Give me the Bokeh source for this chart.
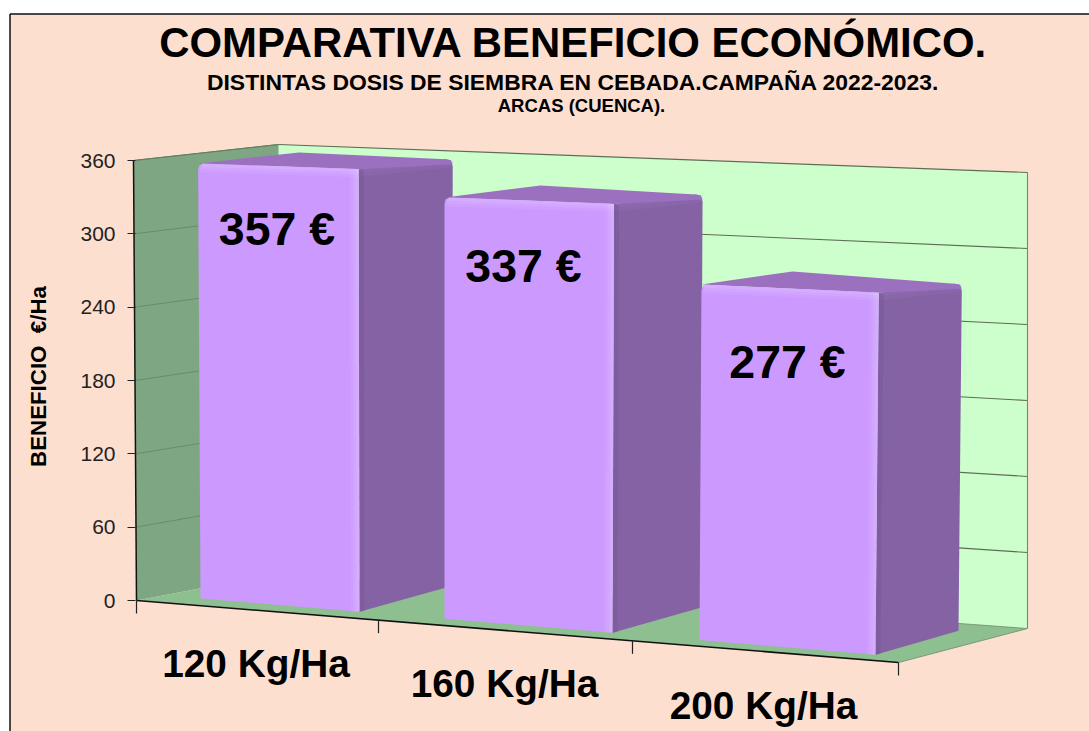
from bokeh.plotting import figure
from bokeh.embed import file_html
from bokeh.resources import INLINE
from bokeh.models import Range1d, FixedTicker
from bokeh.core.properties import value

CATEGORIES = ["120 Kg/Ha", "160 Kg/Ha", "200 Kg/Ha"]
VALUES = [357, 337, 277]
TICKS = [0, 60, 120, 180, 240, 300, 360]
TITLE = "COMPARATIVA BENEFICIO ECONÓMICO."
SUB1 = "DISTINTAS DOSIS DE SIEMBRA EN CEBADA.CAMPAÑA 2022-2023."
SUB2 = "ARCAS (CUENCA)."
YLABEL = "BENEFICIO \u00a0€/Ha"

FONT = value("Liberation Sans")
BG = "#FDDFD0"
W_BACK = "#CCFFCC"
W_LEFT = "#7FA683"
FLOOR = "#8DBF90"
FRONT = "#CC99FF"
SIDE = "#8462A4"
TOP = "#9A70BF"

AXIS_MAX = 360
PW, PH = 1089, 731
Y0_PX, YMAX_PX = 600.0, 160.0
UNIT = (Y0_PX - YMAX_PX) / AXIS_MAX


def yv(py):
    """screen row -> axis units"""
    return (Y0_PX - py) / UNIT


p = figure(width=PW, height=PH, output_backend="svg", toolbar_location=None,
           x_range=Range1d(0, PW),
           y_range=Range1d(yv(PH), yv(0)),
           min_border=0, outline_line_color=None,
           background_fill_color="#FFFFFF", border_fill_color="#FFFFFF")
p.grid.visible = False
p.xaxis.visible = False


def poly(pts, color, alpha=1.0):
    p.patch([a for a, _ in pts], [yv(b) for _, b in pts], fill_color=color,
            fill_alpha=alpha, line_color=None)


def seg(pts, color, width=1.0):
    p.line([a for a, _ in pts], [yv(b) for _, b in pts], line_color=color, line_width=width)


def txt(x, y, s, size, angle=0, color="#000000", style="bold", align="center"):
    p.text([x], [yv(y)], text=[s], text_font=FONT, text_font_size=f"{size}px",
           text_font_style=style, text_align=align, text_baseline="middle",
           text_color=color, angle=angle)


poly([(9.5, 13.5), (PW, 13.5), (PW, PH), (9.5, PH)], BG)

# ---- walls in projection
FL, FR, BL, BR = (136, 600), (898, 662), (278, 573), (1027, 628)
TFL, TBL, TBR = (133, 160), (278, 144), (1027, 172)


def lerp(a, b, t):
    return a + (b - a) * t


def left_wall(v, t):
    w = v / AXIS_MAX
    xf, yf = lerp(FL[0], TFL[0], w), lerp(FL[1], TFL[1], w)
    xb, yb = lerp(BL[0], TBL[0], w), lerp(BL[1], TBL[1], w)
    return (lerp(xf, xb, t), lerp(yf, yb, t))


def back_wall(v, s):
    w = v / AXIS_MAX
    yl, yr = lerp(BL[1], TBL[1], w), lerp(BR[1], TBR[1], w)
    return (lerp(BL[0], BR[0], s), lerp(yl, yr, s))


poly([BL, BR, TBR, TBL], W_BACK)
poly([FL, BL, TBL, TFL], W_LEFT)
poly([FL, FR, BR, BL], FLOOR)

for t in TICKS[1:]:
    seg([back_wall(t, 0), back_wall(t, 1)], "#5E6E55", 1.1)
    seg([left_wall(t, 0), left_wall(t, 1)], "#6C8A6A", 1.0)
seg([BR, TBR], "#76896C", 1.1)
seg([TFL, TBL], "#5E7E5E", 1.0)
seg([BL, BR], "#6F8F6F", 0.8)


# ---- bars in projection
def base_y(x):
    return 598 + (x - 201) * 0.0835


def scale_k(x):
    return 1.2185 + (x - 200) * 0.000131


def lean(x, v):
    return (x - 444) / 122 * v / 300


def front_corners(i, v):
    xl = 200 + 238.5 * i + 5.5 * i * i
    xr = 359 + 248 * i + 5 * i * i
    yl0, yr0 = base_y(xl), base_y(xr)
    yl1, yr1 = yl0 - v * scale_k(xl), yr0 - v * scale_k(xr)
    return (xl, yl0), (xr, yr0), (xr + lean(xr, v), yr1), (xl + lean(xl, v), yl1)


for i, v in enumerate(VALUES):
    b0l, b0r, t0r, t0l = front_corners(i, v)
    # back points
    blx = t0l[0] + 101 - 5 * i
    bly = t0l[1] - (11 + i)
    brx = t0r[0] + 94 - 5.5 * i
    bry = t0r[1] - (10 - 0.5 * i)
    bbx = b0r[0] + 93 - 5 * i
    bby = b0r[1] - (26 - i)

    # side face (with rounded back corner)
    poly([b0r, (bbx, bby), (brx, bry + 7), (brx - 2, bry + 1), (brx - 7, bry), t0r], SIDE)
    # lighter band under the top edge of the side
    for a, d in ((0.10, 4), (0.10, 8)):
        poly([(t0r[0], t0r[1] + d), (brx, bry + d), (brx, bry + 1), t0r], "#B48CD8", a)
    # top face
    poly([t0l, (blx, bly), (brx - 7, bry), (brx - 2, bry + 1), (brx, bry + 5), t0r], TOP)
    # seam front/side
    poly([t0r, b0r, (b0r[0] + 5, b0r[1] - 1), (t0r[0] + 5, t0r[1] + 2)], "#7A5A98", 0.6)

    # front face with rounded upper corners
    poly([b0l, b0r, t0r, (t0r[0] - 4, t0r[1] - 0.5), (t0l[0] + 5, t0l[1] + 0.2),
          (t0l[0] + 1, t0l[1] + 2), (t0l[0], t0l[1] + 6)], FRONT)
    # bevel highlights on the right and top rims
    for a, d in ((0.06, 9), (0.07, 6), (0.08, 3)):
        poly([(t0r[0] - d, t0r[1]), t0r, b0r, (b0r[0] - d, b0r[1])], "#FFFFFF", a)
    for a, d in ((0.06, 8), (0.07, 5), (0.08, 2.5)):
        poly([(t0l[0] + 1, t0l[1] + 1 + d), (t0r[0], t0r[1] + d), t0r, (t0l[0] + 4, t0l[1])], "#FFFFFF", a)

# ---- front edge and category ticks
seg([FL, FR], "#111111", 1.6)
seg([BR, FR], "#7A9A7A", 1.0)
seg([TFL, FL], "#111111", 1.5)
for i in range(4):
    x = 136 + 236 * i + 6 * i * i
    y = lerp(FL[1], FR[1], (x - FL[0]) / (FR[0] - FL[0]))
    seg([(x, y), (x, y + 13)], "#222222", 1.2)

# ---- the page frame
seg([(9.5, 13.5), (PW, 13.5)], "#111111", 1.5)
seg([(9.5, 13.5), (9.5, PH)], "#111111", 1.5)

# ---- real value axis, standing at the left wall's front edge
ax = p.yaxis[0]
ax.fixed_location = 135
ax.ticker = FixedTicker(ticks=TICKS)
ax.bounds = (0, AXIS_MAX)
ax.axis_line_color = None
ax.major_tick_in = 0
ax.major_tick_out = 8
ax.minor_tick_out = 0
ax.minor_tick_in = 0
ax.major_tick_line_color = "#222222"
ax.major_tick_line_width = 1
ax.major_label_standoff = 12
ax.major_label_text_font = "Liberation Sans"
ax.major_label_text_font_size = "21px"
ax.major_label_text_color = "#222222"

# ---- texts
txt(573, 41.5, TITLE, 41.9)
txt(573, 81, SUB1, 22.9)
txt(581, 105, SUB2, 18.5)
txt(38, 376, YLABEL, 22.3, angle=1.5708)

for i, (c, v) in enumerate(zip(CATEGORIES, VALUES)):
    b0l, b0r, t0r, t0l = front_corners(i, v)
    cx = (b0l[0] + b0r[0]) / 2
    txt(cx - 24, base_y(cx) + 58, c, 38.8)
    txt(cx + (-3, -5, 0)[i], (t0l[1] + t0r[1]) / 2 + (63, 65.5, 73.5)[i], f"{v} €", 46.5)

open("out.html", "w").write(file_html(p, INLINE))
